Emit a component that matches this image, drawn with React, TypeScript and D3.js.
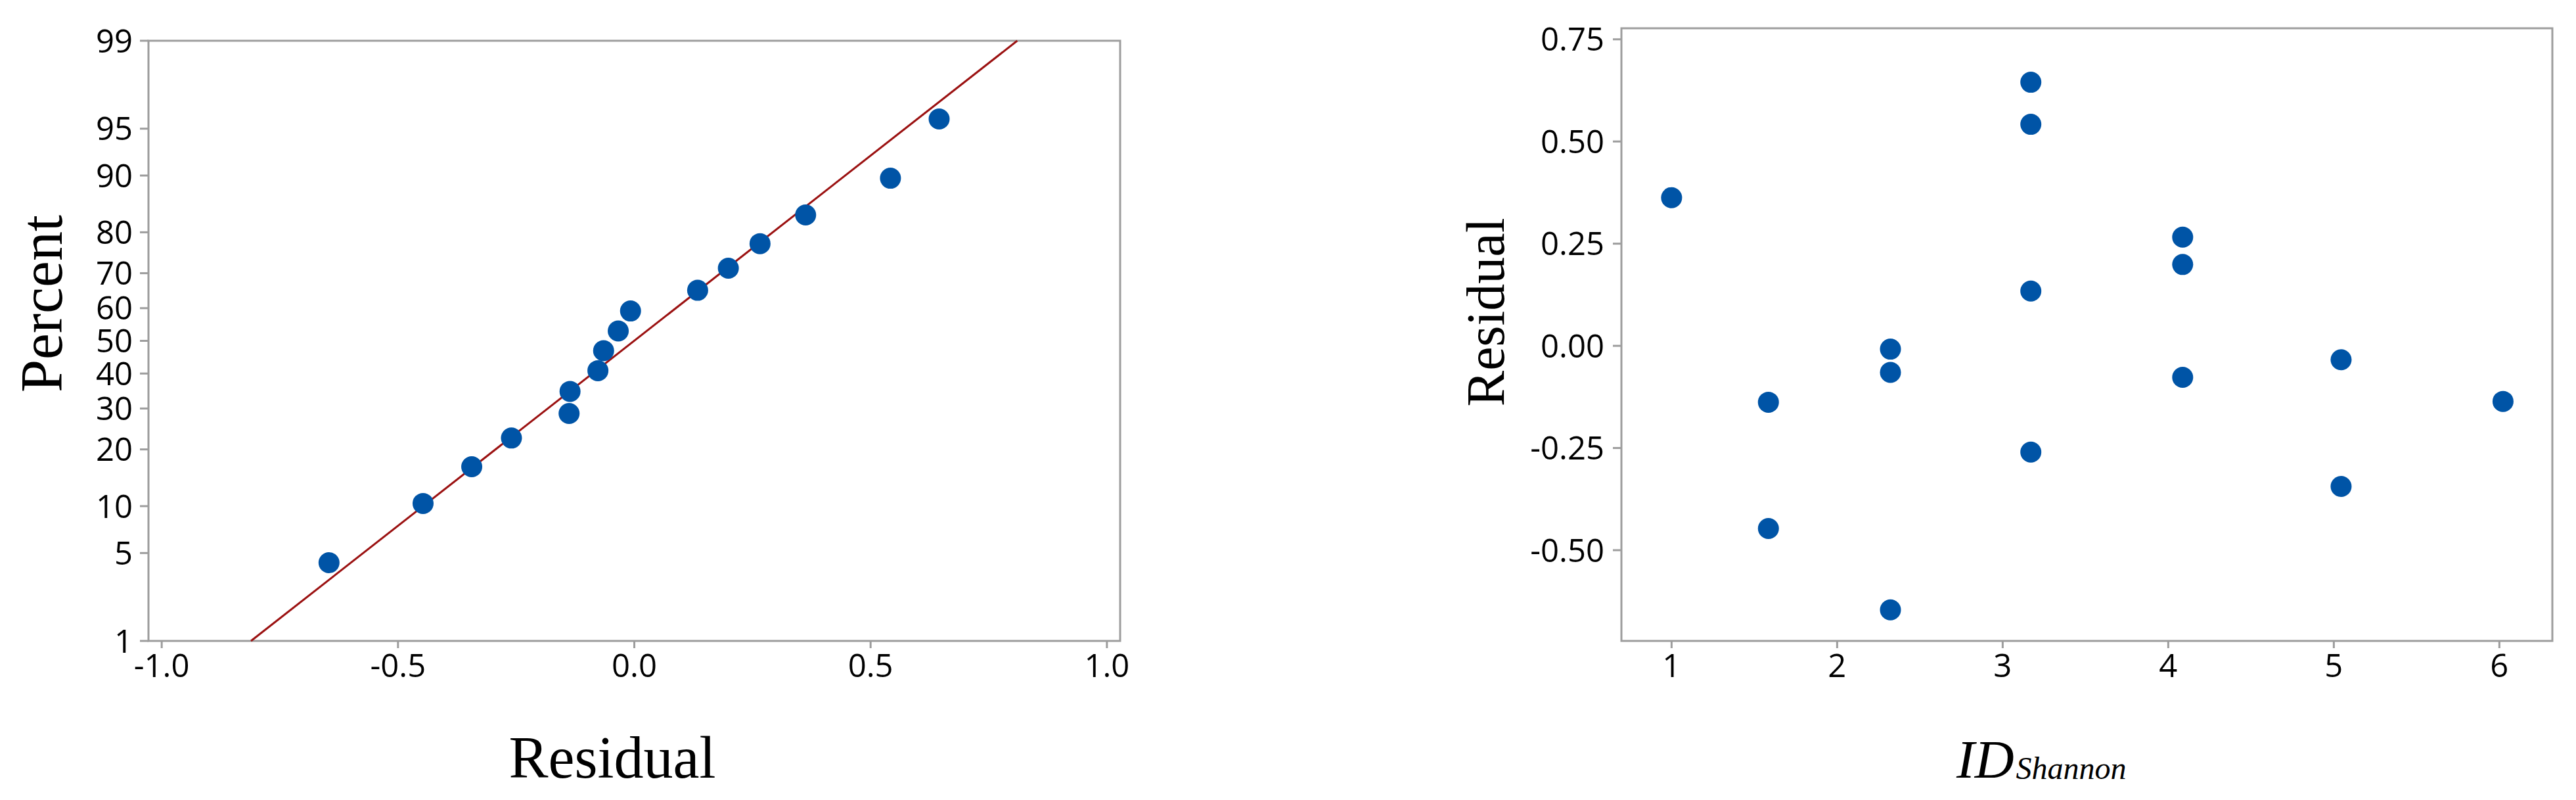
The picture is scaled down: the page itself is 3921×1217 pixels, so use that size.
import React from 'react';
import * as d3 from 'd3';

// ---- data ----
const idShannon = [1, 1.585, 1.585, 2.322, 2.322, 2.322, 3.17, 3.17, 3.17, 3.17, 4.087, 4.087, 4.087, 5.044, 5.044, 6.022];
const residuals = [0.3625, -0.138, -0.447, -0.008, -0.065, -0.646, 0.645, 0.542, 0.134, -0.26, 0.266, 0.199, -0.077, -0.034, -0.344, -0.136];
const percentRanks = [4.27, 10.37, 16.46, 22.56, 28.66, 34.76, 40.85, 46.95, 53.05, 59.15, 65.24, 71.34, 77.44, 83.54, 89.63, 95.73];
const percentTicks = [1, 5, 10, 20, 30, 40, 50, 60, 70, 80, 90, 95, 99];
const residualTicksX = [-1, -0.5, 0, 0.5, 1];
const residualTicksY = [0.75, 0.5, 0.25, 0, -0.25, -0.5];
const idTicks = [1, 2, 3, 4, 5, 6];

// inverse standard normal CDF (Acklam)
function probit(p: number): number {
  const a = [-3.969683028665376e1, 2.209460984245205e2, -2.759285104469687e2, 1.38357751867269e2, -3.066479806614716e1, 2.506628277459239];
  const b = [-5.447609879822406e1, 1.615858368580409e2, -1.556989798598866e2, 6.680131188771972e1, -1.328068155833038e1];
  const c = [-7.784894002430293e-3, -3.223964580411365e-1, -2.400758277161838, -2.549671010229423, 4.374664141464968, 2.938163982698783];
  const d = [7.784695709041462e-3, 3.224671290700398e-1, 2.445134137142996, 3.754408661907416];
  const pl = 0.02425;
  if (p < pl) {
    const q = Math.sqrt(-2 * Math.log(p));
    return (((((c[0] * q + c[1]) * q + c[2]) * q + c[3]) * q + c[4]) * q + c[5]) / ((((d[0] * q + d[1]) * q + d[2]) * q + d[3]) * q + 1);
  }
  if (p <= 1 - pl) {
    const q = p - 0.5;
    const r = q * q;
    return ((((((a[0] * r + a[1]) * r + a[2]) * r + a[3]) * r + a[4]) * r + a[5]) * q) / (((((b[0] * r + b[1]) * r + b[2]) * r + b[3]) * r + b[4]) * r + 1);
  }
  const q = Math.sqrt(-2 * Math.log(1 - p));
  return -(((((c[0] * q + c[1]) * q + c[2]) * q + c[3]) * q + c[4]) * q + c[5]) / ((((d[0] * q + d[1]) * q + d[2]) * q + d[3]) * q + 1);
}

const W = 3921;
const H = 1217;
const GREY = '#9d9d9d';
const BLUE = '#0054a6';
const RED = '#9b1111';
const TICKFONT = "'Open Sans', 'Noto Sans', sans-serif";
const SERIF = "'Liberation Serif', 'Times New Roman', serif";

// left plot geometry
const L = { x0: 226, x1: 1705, y0: 62, y1: 975 };
// right plot geometry
const R = { x0: 2468, x1: 3885, y0: 43, y1: 975 };

export default function App() {
  const xL = d3.scaleLinear().domain([-1.028, 1.028]).range([L.x0, L.x1]);
  const yL = d3.scaleLinear().domain([probit(0.01), probit(0.99)]).range([L.y1, L.y0]);
  const yP = (pct: number) => yL(probit(pct / 100));

  const xR = d3.scaleLinear().domain([0.697, 6.32]).range([R.x0, R.x1]);
  const yR = d3.scaleLinear().domain([-0.722, 0.777]).range([R.y1, R.y0]);

  const sorted = residuals.slice().sort(d3.ascending);
  const mu = d3.mean(residuals) as number;
  const sd = d3.deviation(residuals) as number;
  const fitLine = d3
    .line<number>()
    .x((p) => xL(mu + sd * probit(p)))
    .y((p) => yL(probit(p)))([0.01, 0.99]);

  const tickLen = 13;
  const fmt2 = (v: number) => (v < 0 ? '-' : '') + Math.abs(v).toFixed(2);
  const fmt1 = (v: number) => (v < 0 ? '-' : '') + Math.abs(v).toFixed(1);

  return (
    <svg width={W} height={H} style={{ position: 'absolute', left: 0, top: 0, display: 'block', background: '#fff' }}>
      <rect x={0} y={0} width={W} height={H} fill="#fff" />

      {/* ===== Left: normal probability plot ===== */}
      <rect x={L.x0} y={L.y0} width={L.x1 - L.x0} height={L.y1 - L.y0} fill="none" stroke={GREY} strokeWidth={3} />
      {percentTicks.map((t) => (
        <g key={'lp' + t}>
          <line x1={L.x0 - tickLen} x2={L.x0} y1={yP(t)} y2={yP(t)} stroke={GREY} strokeWidth={3} />
          <text x={L.x0 - tickLen - 11} y={yP(t)} dy="0.36em" textAnchor="end" fontFamily={TICKFONT} fontSize={49} fill="#000">
            {t}
          </text>
        </g>
      ))}
      {residualTicksX.map((t) => (
        <g key={'lx' + t}>
          <line x1={xL(t)} x2={xL(t)} y1={L.y1} y2={L.y1 + 11} stroke={GREY} strokeWidth={3} />
          <text x={xL(t)} y={1030} textAnchor="middle" fontFamily={TICKFONT} fontSize={49} fill="#000">
            {fmt1(t)}
          </text>
        </g>
      ))}
      <path d={fitLine as string} fill="none" stroke={RED} strokeWidth={3} />
      {sorted.map((v, i) => (
        <circle key={'lpt' + i} cx={xL(v)} cy={yP(percentRanks[i])} r={16} fill={BLUE} />
      ))}
      <text transform="translate(94,462) rotate(-90)" textAnchor="middle" fontFamily={SERIF} fontSize={90} fill="#000">
        Percent
      </text>
      <text x={932} y={1183} textAnchor="middle" fontFamily={SERIF} fontSize={90} fill="#000">
        Residual
      </text>

      {/* ===== Right: residuals vs ID ===== */}
      <rect x={R.x0} y={R.y0} width={R.x1 - R.x0} height={R.y1 - R.y0} fill="none" stroke={GREY} strokeWidth={3} />
      {residualTicksY.map((t) => (
        <g key={'ry' + t}>
          <line x1={R.x0 - tickLen} x2={R.x0} y1={yR(t)} y2={yR(t)} stroke={GREY} strokeWidth={3} />
          <text x={R.x0 - tickLen - 13} y={yR(t)} dy="0.36em" textAnchor="end" fontFamily={TICKFONT} fontSize={49} fill="#000">
            {fmt2(t)}
          </text>
        </g>
      ))}
      {idTicks.map((t) => (
        <g key={'rx' + t}>
          <line x1={xR(t)} x2={xR(t)} y1={R.y1} y2={R.y1 + 11} stroke={GREY} strokeWidth={3} />
          <text x={xR(t)} y={1030} textAnchor="middle" fontFamily={TICKFONT} fontSize={49} fill="#000">
            {t}
          </text>
        </g>
      ))}
      {residuals.map((v, i) => (
        <circle key={'rpt' + i} cx={xR(idShannon[i])} cy={yR(v)} r={16} fill={BLUE} />
      ))}
      <text transform="translate(2289,475) rotate(-90)" textAnchor="middle" fontFamily={SERIF} fontSize={82} fill="#000">
        Residual
      </text>
      <text x={2978} y={1183} fontFamily={SERIF} fontStyle="italic" fill="#000">
        <tspan fontSize={83}>ID</tspan>
        <tspan fontSize={48} dy={2} dx={3}>Shannon</tspan>
      </text>
    </svg>
  );
}
